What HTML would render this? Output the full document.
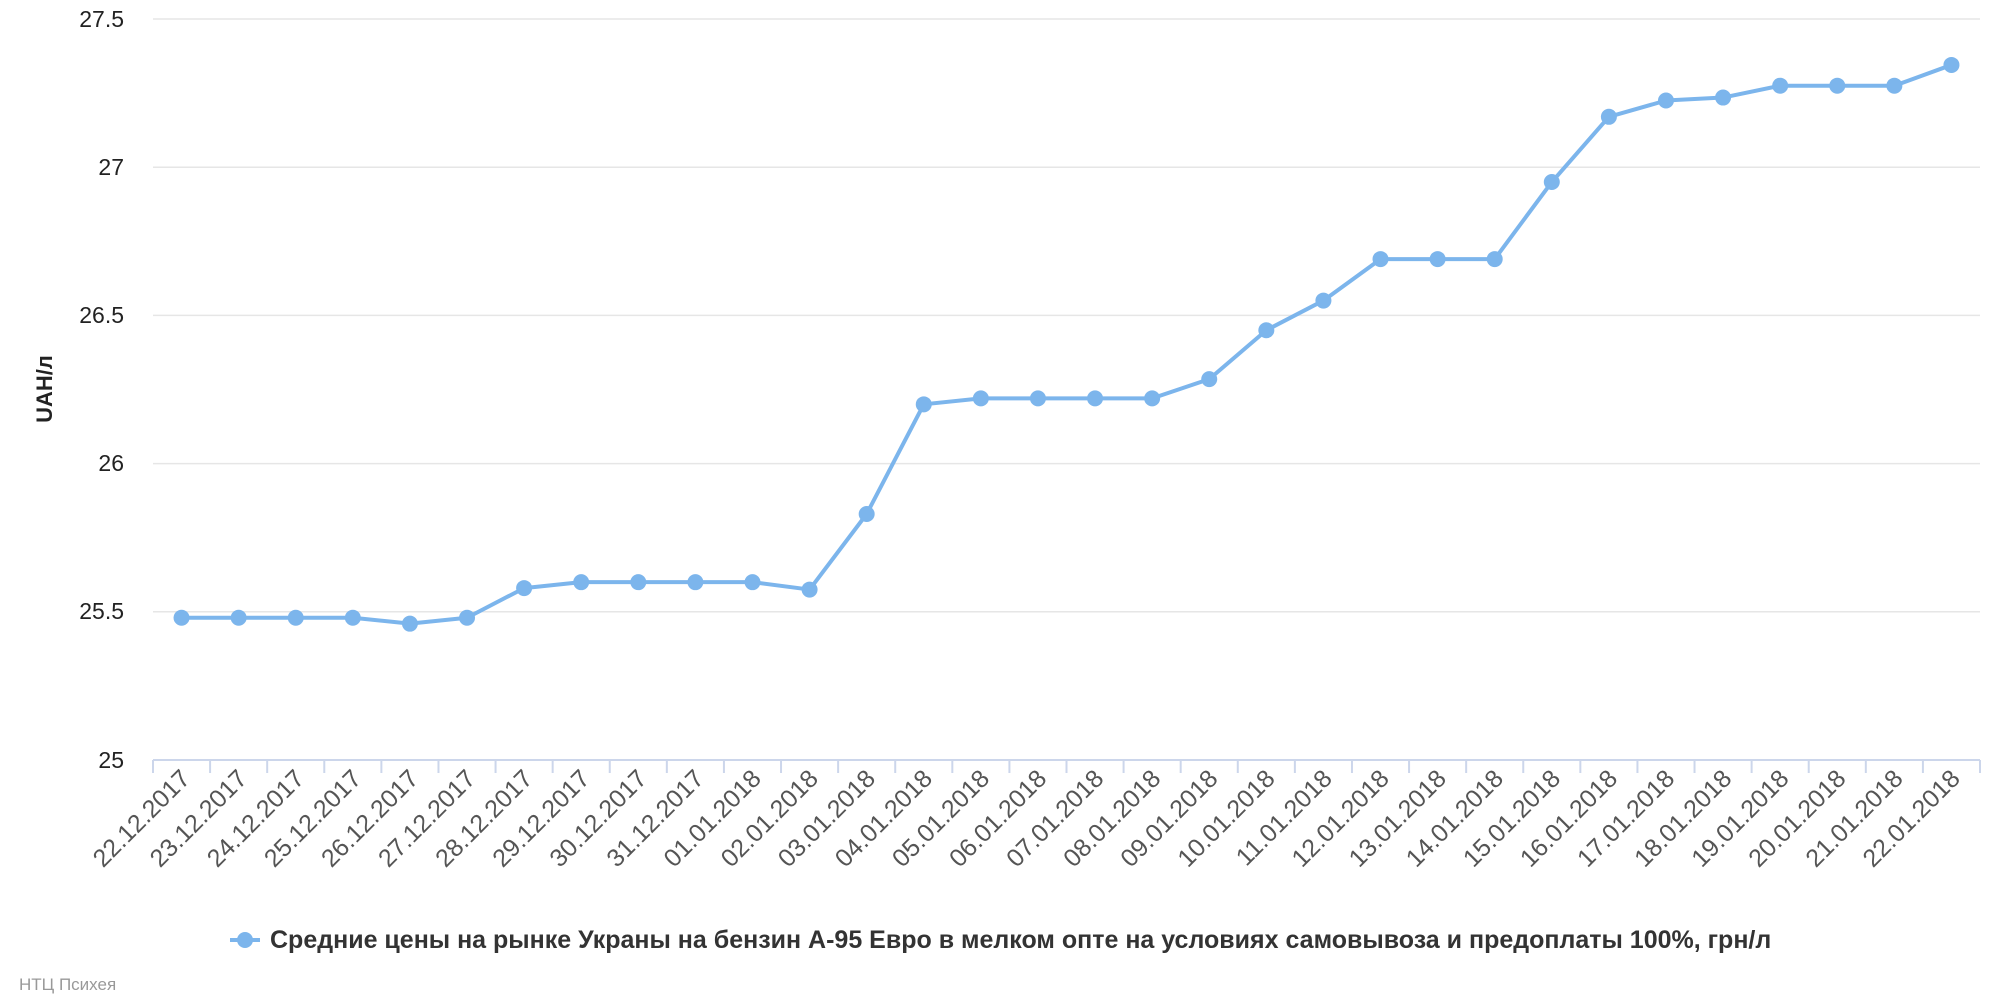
<!DOCTYPE html>
<html><head><meta charset="utf-8"><style>
html,body{margin:0;padding:0;background:#fff;}
svg{display:block;font-family:"Liberation Sans","DejaVu Sans",sans-serif;}
</style></head><body>
<svg id="s" width="2000" height="1000" viewBox="0 0 2000 1000" xmlns="http://www.w3.org/2000/svg">
<g stroke="#e6e6e6" stroke-width="1.5">
<line x1="153" y1="19" x2="1980" y2="19"/>
<line x1="153" y1="167.2" x2="1980" y2="167.2"/>
<line x1="153" y1="315.4" x2="1980" y2="315.4"/>
<line x1="153" y1="463.6" x2="1980" y2="463.6"/>
<line x1="153" y1="611.8" x2="1980" y2="611.8"/>
</g>
<line x1="153" y1="760" x2="1980" y2="760" stroke="#ccd6eb" stroke-width="2"/>
<g id="ticks" stroke="#ccd6eb" stroke-width="2"></g>
<g font-size="23" fill="#222" text-anchor="end">
<text x="124" y="27">27.5</text>
<text x="124" y="175">27</text>
<text x="124" y="323">26.5</text>
<text x="124" y="471">26</text>
<text x="124" y="619">25.5</text>
<text x="124" y="768">25</text>
</g>
<text transform="translate(52,389) rotate(-90)" font-size="22" font-weight="bold" fill="#222" text-anchor="middle">UAH/л</text>
<polyline id="ln" fill="none" stroke="#7cb5ec" stroke-width="4" stroke-linejoin="round"/>
<g id="pts" fill="#7cb5ec"></g>
<g id="xl" font-size="25" fill="#555" text-anchor="end">
<text>22.12.2017</text><text>23.12.2017</text><text>24.12.2017</text><text>25.12.2017</text>
<text>26.12.2017</text><text>27.12.2017</text><text>28.12.2017</text><text>29.12.2017</text>
<text>30.12.2017</text><text>31.12.2017</text><text>01.01.2018</text><text>02.01.2018</text>
<text>03.01.2018</text><text>04.01.2018</text><text>05.01.2018</text><text>06.01.2018</text>
<text>07.01.2018</text><text>08.01.2018</text><text>09.01.2018</text><text>10.01.2018</text>
<text>11.01.2018</text><text>12.01.2018</text><text>13.01.2018</text><text>14.01.2018</text>
<text>15.01.2018</text><text>16.01.2018</text><text>17.01.2018</text><text>18.01.2018</text>
<text>19.01.2018</text><text>20.01.2018</text><text>21.01.2018</text><text>22.01.2018</text>
</g>
<line x1="230" y1="940" x2="260" y2="940" stroke="#7cb5ec" stroke-width="4"/>
<circle cx="245" cy="940" r="8" fill="#7cb5ec"/>
<text x="270" y="948" font-size="25" font-weight="bold" fill="#333">Средние цены на рынке Украны на бензин А-95 Евро в мелком опте на условиях самовывоза и предоплаты 100%, грн/л</text>
<text x="19" y="990" font-size="17" fill="#999">НТЦ Психея</text>
</svg>
<script>
var v=[25.48,25.48,25.48,25.48,25.46,25.48,25.58,25.60,25.60,25.60,25.60,25.575,25.83,26.20,26.22,26.22,26.22,26.22,26.285,26.45,26.55,26.69,26.69,26.69,26.95,27.17,27.225,27.235,27.275,27.275,27.275,27.345];
var NS="http://www.w3.org/2000/svg",w=1827/32,pts=[];
var tk=document.getElementById('ticks'),pg=document.getElementById('pts');
for(var k=0;k<=32;k++){var l=document.createElementNS(NS,'line');var x=153+w*k;l.setAttribute('x1',x);l.setAttribute('x2',x);l.setAttribute('y1',760);l.setAttribute('y2',773);tk.appendChild(l);}
var xl=document.getElementById('xl').children;
v.forEach(function(d,i){var x=153+w*(i+0.5),y=760-(d-25)*296.4;pts.push(x+','+y);
var c=document.createElementNS(NS,'circle');c.setAttribute('cx',x);c.setAttribute('cy',y);c.setAttribute('r',8);pg.appendChild(c);
xl[i].setAttribute('transform','translate('+(x+10)+',780) rotate(-45)');});
document.getElementById('ln').setAttribute('points',pts.join(' '));
</script>
</body></html>
